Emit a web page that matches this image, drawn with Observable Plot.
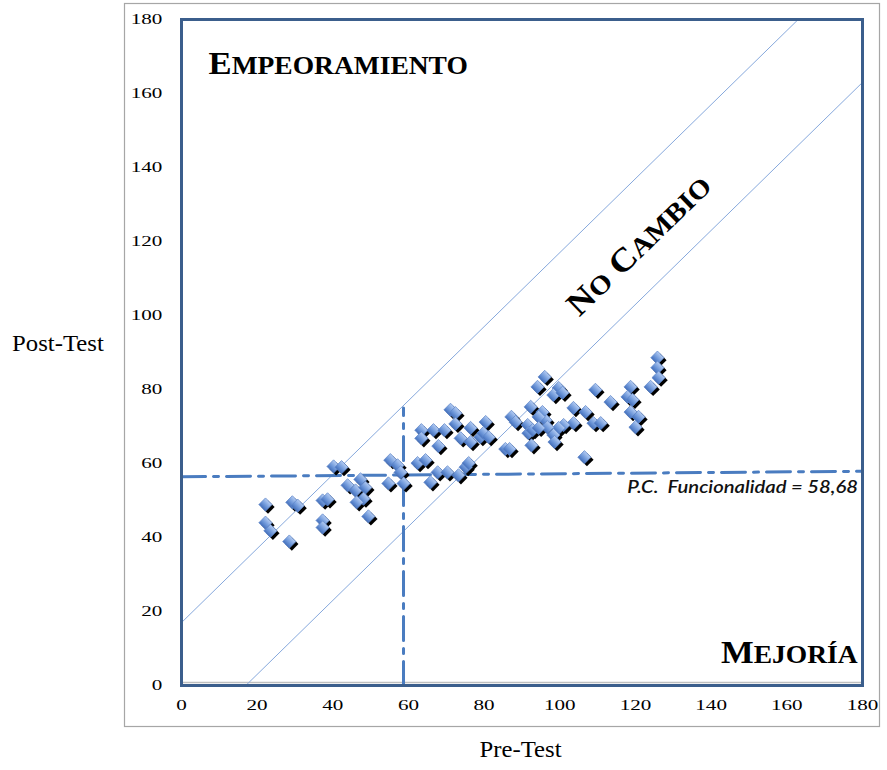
<!DOCTYPE html>
<html><head><meta charset="utf-8">
<script src="https://cdn.jsdelivr.net/npm/d3@7"></script>
<script src="https://cdn.jsdelivr.net/npm/@observablehq/plot@0.6"></script>
<style>body{margin:0;background:#fff} svg{display:block}</style>
</head><body><div id="chart"></div>
<script>
// Pre-Test / Post-Test scores
const preTest = [
  22.2,22.2,23.5,28.5,29.3,30.7,37.3,38.6,37.3,37.3,40.2,42.3,43.9,46.0,47.3,48.6,48.1,46.3,49.4,55.2,57.1,54.7,58.7,57.9,
  62.4,64.5,65.8,67.7,70.3,73.2,75.1,75.9,71.1,72.4,72.4,63.4,66.6,69.5,63.4,67.9,73.8,76.4,80.4,76.4,79.0,79.8,81.2,87.2,85.6,86.7,
  96.0,94.1,99.7,98.3,100.7,109.4,113.4,118.7,117.9,119.2,118.7,120.8,120.0,125.8,125.8,126.1,124.0,103.6,106.8,108.9,110.8,103.6,
  101.0,99.7,98.3,96.2,95.4,94.4,96.7,92.3,88.3,91.5,91.7,92.8,92.5,98.6,106.5,94.4
];
const postTest = [
  48.9,44.0,41.8,38.9,49.5,48.6,50.0,50.3,44.6,42.7,59.2,59.0,54.1,52.7,55.7,53.5,50.5,49.5,45.7,60.9,59.5,54.6,54.6,57.6,
  60.1,60.9,54.9,57.6,57.6,56.8,59.0,60.1,74.5,73.6,70.7,69.0,69.0,69.0,66.8,64.7,66.8,69.6,71.2,65.8,67.1,68.2,67.1,72.6,63.9,63.9,
  83.4,80.7,80.4,78.5,79.1,79.9,76.6,80.7,78.0,77.2,73.9,72.6,69.8,88.6,85.9,83.2,80.7,75.0,73.9,70.9,70.9,70.9,
  70.4,69.6,67.7,71.7,73.9,72.6,69.8,75.3,71.2,70.4,68.2,69.0,64.9,65.8,61.7,69.6
];
const axisTicks = [0, 20, 40, 60, 80, 100, 120, 140, 160, 180];
const noChangeBand = 17;          // half-width of the "no change" band
const pcValue = 58.68;            // punto de corte funcionalidad
const pcLineEnds = [56.4, 57.9];  // horizontal cut line, left/right end values
const pcVerticalTop = 75;
const pcLabel = "P.C. \u00a0Funcionalidad = 58,68";
const zoneLabels = ["Empeoramiento", "No Cambio", "Mejoría"];
const axisTitles = ["Pre-Test", "Post-Test"];

const points = preTest.map((x, i) => ({x, y: postTest[i]}));
const diagonals = [
  {x1: 0, y1: noChangeBand, x2: 180 - noChangeBand, y2: 180},
  {x1: noChangeBand, y1: 0, x2: 180, y2: 180 - noChangeBand}
];
const hLine = [{x: 0, y: pcLineEnds[0]}, {x: 180, y: pcLineEnds[1]}];
const vLine = [{x: pcValue, y: 0}, {x: pcValue, y: pcVerticalTop}];
const dashDot = "24,8,5,8";
const blue = "#4A7CC0";
const serif = "'Liberation Serif', 'Times New Roman', serif";
const zoneStyle = {text: d => d, lineAnchor: "bottom", fontWeight: "bold", fontFamily: serif, fill: "#000", fontSize: 25};

const plot = Plot.plot({
  width: 887, height: 770,
  marginLeft: 181, marginRight: 25, marginTop: 19, marginBottom: 85,
  style: {fontFamily: serif, fontSize: "15.5px", color: "#000", background: "#fff", overflow: "visible"},
  x: {domain: [0, 180], ticks: axisTicks, tickSize: 0, tickPadding: 13, label: null},
  y: {domain: [0, 180], ticks: axisTicks, tickSize: 0, tickPadding: 19, label: null},
  marks: [
    Plot.ruleY([0], {stroke: "#bfbfbf", strokeWidth: 1.5, dy: -3}),
    Plot.link(diagonals, {x1: "x1", y1: "y1", x2: "x2", y2: "y2", stroke: "#86A8DC", strokeWidth: 1}),
    Plot.line(hLine, {x: "x", y: "y", stroke: blue, strokeWidth: 3, strokeDasharray: dashDot}),
    Plot.line(vLine, {x: "x", y: "y", stroke: blue, strokeWidth: 3, strokeDasharray: dashDot}),
    Plot.dot(points, {x: "x", y: "y", symbol: "square", rotate: 45, r: 5.3, fill: "#000", stroke: "none", dx: 2.5, dy: 2.5}),
    Plot.dot(points, {x: "x", y: "y", symbol: "square", rotate: 45, r: 5.3, fill: "url(#dg)", stroke: "#5F86C8", strokeWidth: 0.7}),
    Plot.frame({stroke: "#3B5E8C", strokeWidth: 3}),
    Plot.text([zoneLabels[0]], {...zoneStyle, x: 7.14, y: 165.4, textAnchor: "start"}),
    Plot.text([zoneLabels[1]], {...zoneStyle, x: 121.3, y: 118.6, textAnchor: "middle", lineAnchor: "middle", rotate: -44}),
    Plot.text([zoneLabels[2]], {...zoneStyle, x: 178.7, y: 6.2, textAnchor: "end"}),
    Plot.text([pcLabel], {x: 178.8, y: 51.9, text: d => d, textAnchor: "end", lineAnchor: "bottom", fontSize: 16.3, fontStyle: "italic", fontWeight: 600, fontFamily: "Lato, 'Open Sans', sans-serif", fill: "#111"}),
    Plot.text([axisTitles[1]], {frameAnchor: "left", text: d => d, textAnchor: "middle", lineAnchor: "bottom", dx: -123.5, dy: -2, fontSize: 22.7}),
    Plot.text([axisTitles[0]], {frameAnchor: "bottom", text: d => d, textAnchor: "middle", lineAnchor: "bottom", dx: -1.5, dy: 71, fontSize: 22.7})
  ]
});

const svg = d3.select(plot);
const defs = svg.insert("defs", ":first-child");
const g = defs.append("linearGradient").attr("id", "dg").attr("x1", 0).attr("y1", 0).attr("x2", 0).attr("y2", 1);
g.append("stop").attr("offset", "0%").attr("stop-color", "#B3CBF2");
g.append("stop").attr("offset", "55%").attr("stop-color", "#719ADB");
g.append("stop").attr("offset", "100%").attr("stop-color", "#4470BC");
svg.insert("rect", "defs + *")
  .attr("x", 124.5).attr("y", 3.5).attr("width", 755).attr("height", 723)
  .attr("fill", "none").attr("stroke", "#A6A6A6").attr("stroke-width", 1.2);
document.getElementById("chart").appendChild(plot);

const byText = s => svg.selectAll("text").filter(function() { return this.textContent === s; });

// horizontal stretch of texts around their anchor (mimics the reference's wide lettering)
function stretch(sel, s, anchor) {
  sel.each(function() {
    const b = this.getBBox();
    const ax = anchor === "start" ? b.x : anchor === "end" ? b.x + b.width : b.x + b.width / 2;
    const tr = this.getAttribute("transform") || "";
    this.setAttribute("transform", `${tr} translate(${ax},0) scale(${s},1) translate(${-ax},0)`);
  });
}

// small caps built from tspans: capital initials large, the rest as smaller capitals
const zoneSizes = [[31.5, 25, "start"], [33, 26.5, "middle"], [31.5, 25, "end"]];
zoneLabels.forEach((label, k) => {
  const [big, small, anchor] = zoneSizes[k];
  const sel = byText(label);
  sel.each(function() {
    const t = d3.select(this);
    const words = label.split(" ");
    t.text(null).attr("font-size", small);
    words.forEach((w, i) => {
      t.append("tspan").attr("font-size", big).text((i ? " " : "") + w[0].toUpperCase());
      t.append("tspan").attr("font-size", small).text(w.slice(1).toUpperCase());
    });
  });
  stretch(sel, 1.1, anchor);
});

stretch(svg.selectAll('g[aria-label="y-axis tick label"] text'), 1.36, "end");
stretch(svg.selectAll('g[aria-label="x-axis tick label"] text'), 1.36, "middle");
stretch(byText(pcLabel), 1.24, "end");
axisTitles.forEach(t => stretch(byText(t), 1.09, "middle"));
</script>
</body></html>
